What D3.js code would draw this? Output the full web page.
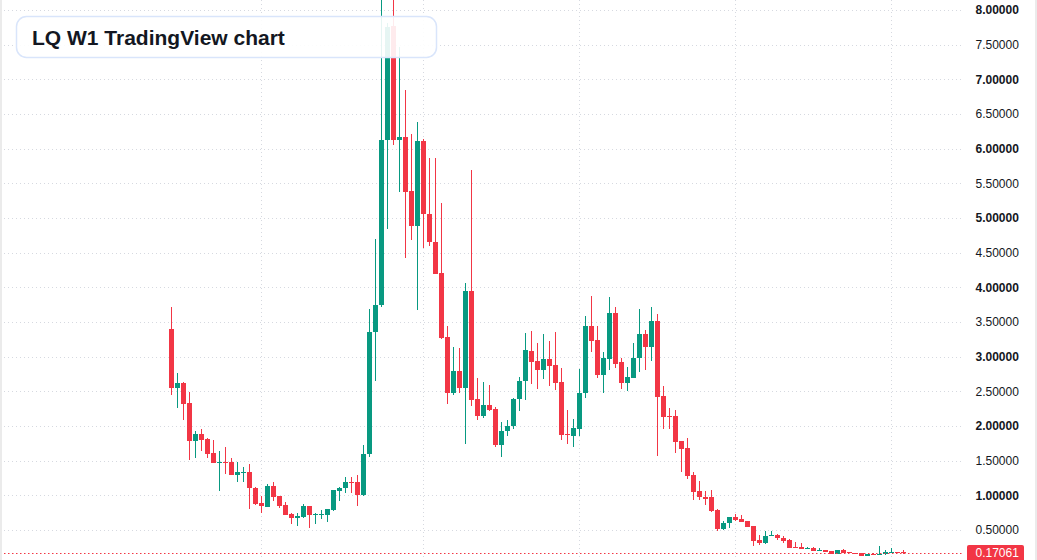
<!DOCTYPE html>
<html>
<head>
<meta charset="utf-8">
<script src="https://cdn.jsdelivr.net/npm/d3@7"></script>
<style>
  html, body { margin: 0; padding: 0; background: #ffffff; }
  svg { display: block; }
  text { font-family: "Liberation Sans", Arial, sans-serif; }
</style>
</head>
<body>
<svg id="chart" width="1037" height="560"></svg>
<script>
// ---------- data (weekly candles) ----------
const opens = [3.40,2.55,2.62,2.33,1.79,1.885,1.81,1.61,1.47,1.48,1.48,1.30,1.33,1.34,1.11,0.89,0.83,1.135,0.99,0.86,
  0.73,0.68,0.69,0.85,0.71,0.72,0.72,0.79,1.07,1.10,1.19,1.19,1.01,1.59,3.35,3.74,6.12,7.77,6.12,6.17,
  5.39,4.88,6.11,5.06,4.65,4.21,3.28,2.48,2.80,2.55,3.95,2.39,2.15,2.30,2.245,1.73,1.93,2.00,2.39,2.65,
  3.08,2.94,2.81,2.97,2.88,2.635,1.88,1.86,1.96,2.47,3.44,3.24,2.73,2.97,3.63,2.92,2.625,2.70,2.98,3.33,
  3.14,3.515,2.43,2.14,2.145,1.79,1.69,1.30,1.07,0.98,0.97,0.79,0.52,0.60,0.69,0.66,0.635,0.56,0.36,0.32,
  0.42,0.43,0.39,0.36,0.25,0.26,0.235,0.245,0.20,0.215,0.20,0.16,0.215,0.19,0.175,0.175,0.13,0.16,0.145,0.15,
  0.175,0.19,0.19];
const highs = [3.72,2.77,2.64,2.49,1.93,1.957,1.83,1.80,1.64,1.70,1.54,1.48,1.41,1.45,1.12,0.99,1.16,1.19,0.99,0.90,
  0.74,0.74,0.875,0.85,0.74,0.79,0.80,1.08,1.12,1.265,1.265,1.29,1.72,3.69,4.70,8.60,7.82,8.50,7.46,6.85,
  6.21,6.39,6.14,5.87,5.87,5.21,3.45,3.14,3.125,4.06,5.69,2.69,2.635,2.59,2.275,2.06,2.09,2.40,2.71,3.34,
  3.37,3.20,3.33,3.23,3.355,2.84,2.23,2.10,2.82,3.59,3.875,3.44,3.07,3.86,3.715,2.98,2.85,3.20,3.69,3.385,
  3.715,3.615,2.58,2.26,2.23,1.79,1.83,1.33,1.21,1.07,1.08,0.81,0.635,0.69,0.735,0.72,0.635,0.56,0.43,0.49,
  0.49,0.45,0.42,0.375,0.33,0.32,0.26,0.26,0.245,0.215,0.20,0.215,0.23,0.19,0.175,0.175,0.16,0.165,0.27,0.215,
  0.245,0.19,0.215];
const lows = [2.45,2.26,2.08,1.51,1.54,1.64,1.54,1.47,1.07,1.31,1.30,1.20,1.20,0.81,0.865,0.75,0.83,0.92,0.82,0.72,
  0.59,0.56,0.68,0.53,0.58,0.655,0.62,0.78,0.92,1.04,1.04,0.85,0.99,1.56,2.65,3.72,4.84,6.05,5.37,4.43,
  4.69,3.68,4.57,4.60,4.20,3.26,2.32,2.45,2.47,1.745,2.29,2.08,2.12,2.22,1.70,1.56,1.86,1.96,2.21,2.38,
  2.61,2.54,2.68,2.58,2.52,1.80,1.745,1.70,1.86,2.41,3.07,2.70,2.47,2.81,2.84,2.54,2.51,2.70,2.78,2.81,
  2.94,1.57,1.96,1.96,1.615,1.33,1.24,0.94,0.94,0.865,0.765,0.49,0.505,0.53,0.635,0.62,0.55,0.27,0.29,0.30,
  0.42,0.36,0.32,0.245,0.245,0.23,0.235,0.20,0.20,0.19,0.16,0.16,0.175,0.175,0.165,0.13,0.13,0.145,0.145,0.145,
  0.175,0.175,0.16];
const closes = [2.55,2.62,2.32,1.79,1.885,1.80,1.60,1.47,1.48,1.47,1.30,1.34,1.34,1.10,0.88,0.84,1.135,0.98,0.85,0.72,
  0.68,0.70,0.85,0.71,0.73,0.73,0.80,1.08,1.10,1.19,1.18,1.01,1.60,3.36,3.75,6.12,7.76,6.12,6.17,5.38,
  4.89,6.11,5.06,4.65,4.20,3.27,2.48,2.80,2.55,3.95,2.38,2.15,2.30,2.235,1.73,1.93,2.00,2.39,2.65,3.10,
  2.93,2.81,2.97,2.87,2.625,1.875,1.875,1.97,2.48,3.44,3.23,2.73,2.98,3.63,2.90,2.625,2.71,2.98,3.33,3.14,
  3.515,2.42,2.135,2.135,1.775,1.675,1.285,1.05,0.97,0.95,0.78,0.52,0.605,0.69,0.65,0.62,0.55,0.345,0.32,0.42,
  0.425,0.39,0.345,0.245,0.245,0.23,0.245,0.20,0.215,0.19,0.16,0.215,0.175,0.175,0.165,0.13,0.16,0.145,0.16,0.19,
  0.19,0.175,0.17061];
const priceTicks = [0.5,1,1.5,2,2.5,3,3.5,4,4.5,5,5.5,6,6.5,7,7.5,8];
const timeGridWeeks = [15, 42, 68, 94, 120];   // period boundaries (candle index)
const lastPrice = 0.17061;
const titleText = "LQ W1 TradingView chart";

// ---------- layout ----------
const W = 1037, H = 560;
const plotRight = 964;
const UP = "#089981", DOWN = "#F23645";
const svg = d3.select("#chart");

const n = closes.length;
const x = d3.scaleLinear().domain([0, n - 1]).range([171.5, 171.5 + 6 * (n - 1)]);
const y = d3.scaleLinear().domain([0, 8]).range([564.7, 10.05]);

svg.append("rect").attr("width", W).attr("height", H).attr("fill", "#ffffff");

// grid
const grid = svg.append("g");
grid.selectAll("line.h").data(priceTicks).join("line")
  .attr("x1", 0).attr("x2", plotRight)
  .attr("y1", d => Math.round(y(d)) + 0.5).attr("y2", d => Math.round(y(d)) + 0.5)
  .attr("stroke", "#d6d9e0").attr("stroke-width", 1).attr("stroke-dasharray", "1,3");
grid.selectAll("line.v").data(timeGridWeeks).join("line")
  .attr("x1", d => Math.floor(x(d)) + 0.5).attr("x2", d => Math.floor(x(d)) + 0.5)
  .attr("y1", 0).attr("y2", H)
  .attr("stroke", "#d6d9e0").attr("stroke-width", 1).attr("stroke-dasharray", "1,3");

// candles
const data = closes.map((c, i) => ({ i, o: opens[i], h: highs[i], l: lows[i], c }));
const cg = svg.append("g");
const color = d => d.c >= d.o ? UP : DOWN;
cg.selectAll("rect.wick").data(data).join("rect")
  .attr("x", d => Math.floor(x(d.i)))
  .attr("width", 1)
  .attr("y", d => Math.round(y(d.h)))
  .attr("height", d => Math.max(1, Math.round(y(d.l)) - Math.round(y(d.h))))
  .attr("fill", color);
cg.selectAll("rect.body").data(data).join("rect")
  .attr("x", d => Math.floor(x(d.i)) - 2)
  .attr("width", 5)
  .attr("y", d => Math.round(y(Math.max(d.o, d.c))))
  .attr("height", d => Math.max(1, Math.round(y(Math.min(d.o, d.c))) - Math.round(y(Math.max(d.o, d.c)))))
  .attr("fill", color);

// last price line
svg.append("line")
  .attr("x1", 0).attr("x2", plotRight)
  .attr("y1", Math.round(y(lastPrice)) + 0.5).attr("y2", Math.round(y(lastPrice)) + 0.5)
  .attr("stroke", DOWN).attr("stroke-width", 1).attr("stroke-dasharray", "1.5,2.5");

// price axis labels
const axisG = svg.append("g");
axisG.selectAll("text").data(priceTicks).join("text")
  .attr("x", 975.5)
  .attr("y", d => y(d) + 4.3)
  .attr("font-size", 12)
  .attr("font-weight", d => Number.isInteger(d) ? "bold" : "normal")
  .attr("fill", "#131722")
  .text(d => d3.format(".5f")(d));

// last price label
const lp = y(lastPrice);
svg.append("rect").attr("x", 967).attr("y", Math.round(lp) - 8).attr("width", 57).attr("height", 17)
  .attr("rx", 2).attr("fill", DOWN);
svg.append("text").attr("x", 975.5).attr("y", lp + 4.5).attr("font-size", 12)
  .attr("fill", "#ffffff").text(d3.format(".5f")(lastPrice));

// borders
svg.append("rect").attr("x", 0).attr("y", 0).attr("width", 2).attr("height", H).attr("fill", "#ebebeb");
svg.append("rect").attr("x", 1035).attr("y", 0).attr("width", 2).attr("height", H).attr("fill", "#ebebeb");

// title box
svg.append("rect").attr("x", 16.5).attr("y", 16.5).attr("width", 420).attr("height", 41).attr("rx", 10)
  .attr("fill", "#ffffff").attr("fill-opacity", 0.9)
  .attr("stroke", "#d9e5fb").attr("stroke-width", 1.5);
svg.append("text").attr("x", 32).attr("y", 44.5).attr("font-size", 21).attr("font-weight", "bold")
  .attr("fill", "#131722").text(titleText);
</script>
</body>
</html>
